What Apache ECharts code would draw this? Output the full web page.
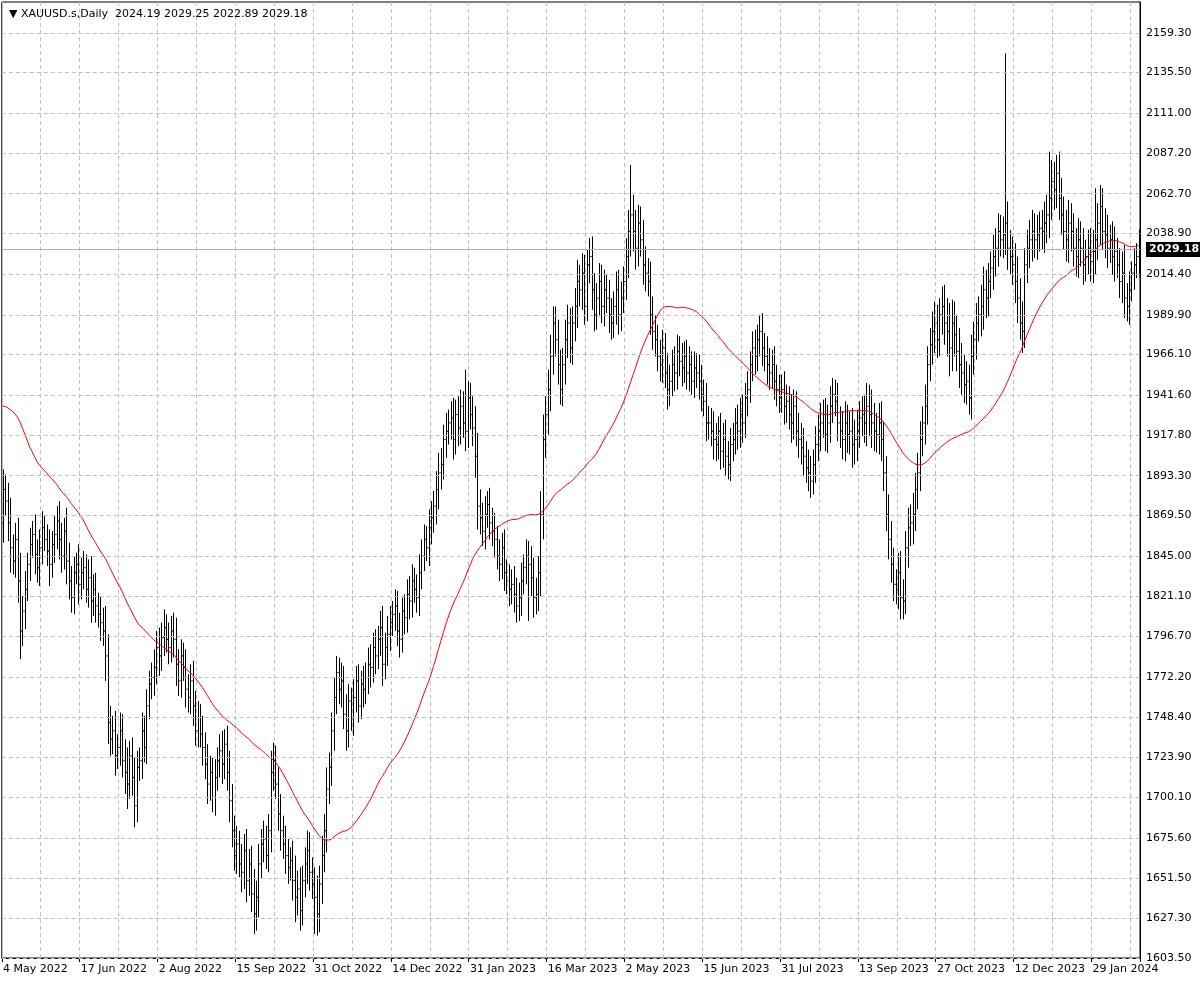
<!DOCTYPE html>
<html><head><meta charset="utf-8">
<script src="https://cdn.jsdelivr.net/npm/echarts@6/dist/echarts.min.js"></script>
<style>html,body{margin:0;padding:0;background:#fff}#c{width:1200px;height:984px}</style>
</head><body><div id="c"></div>
<script>
const title = "\u25BC XAUUSD.s,Daily  2024.19 2029.25 2022.89 2029.18";
const xTickLabels = ["4 May 2022","17 Jun 2022","2 Aug 2022","15 Sep 2022","31 Oct 2022","14 Dec 2022","31 Jan 2023","16 Mar 2023","2 May 2023","15 Jun 2023","31 Jul 2023","13 Sep 2023","27 Oct 2023","12 Dec 2023","29 Jan 2024"];
const yTickLabels = [1603.50,1627.30,1651.50,1675.60,1700.10,1723.90,1748.40,1772.20,1796.70,1821.10,1845.00,1869.50,1893.30,1917.80,1941.60,1966.10,1989.90,2014.40,2038.90,2062.70,2087.20,2111.00,2135.50,2159.30];
const lastPrice = 2029.18;
const preCloses = [1898,1890,1905,1910,1890,1935,1925,1945,1995,2000,2040,2050,1990,2000,1985,1960,1930,1945,1920,1935,1935,1925,1958,1960,1955,1935,1925,1920,1935,1930,1925,1925,1945,1950,1975,1978,1955,1950,1930,1940,1933,1903,1895,1885,1890,1898,1870,1868,1862,1865];
const closes = [
1885,1878,1865,1850,1842,1855,1830,1800,1812,1825,
1840,1852,1858,1846,1838,1850,1862,1855,1848,1840,
1852,1858,1866,1855,1845,1860,1842,1830,1820,1835,
1840,1828,1835,1838,1825,1832,1818,1825,1815,1810,
1805,1800,1785,1745,1735,1740,1725,1730,1740,1722,
1715,1708,1725,1712,1695,1718,1722,1740,1730,1755,
1768,1772,1778,1790,1785,1796,1802,1795,1790,1800,
1795,1780,1770,1785,1778,1765,1760,1770,1755,1740,
1748,1738,1730,1720,1708,1715,1700,1712,1722,1728,
1720,1732,1715,1698,1680,1665,1672,1660,1655,1668,
1650,1660,1642,1630,1640,1660,1672,1675,1665,1680,
1715,1722,1708,1690,1680,1672,1665,1658,1662,1650,
1640,1645,1632,1650,1660,1668,1655,1648,1640,1630,
1648,1665,1680,1705,1718,1740,1760,1775,1765,1770,
1750,1740,1758,1748,1760,1770,1755,1768,1765,1772,
1780,1778,1790,1785,1795,1802,1780,1790,1798,1805,
1810,1815,1800,1795,1812,1808,1822,1818,1830,1825,
1820,1835,1845,1855,1850,1862,1868,1875,1885,1895,
1900,1915,1920,1925,1928,1915,1930,1922,1935,1925,
1920,1940,1930,1922,1905,1875,1868,1860,1870,1876,
1865,1860,1855,1845,1840,1850,1835,1830,1825,1828,
1822,1815,1820,1830,1838,1845,1840,1832,1820,1822,
1835,1870,1915,1930,1945,1965,1985,1975,1960,1945,
1960,1975,1985,1970,1985,1995,2010,2005,2015,1995,
2020,2025,2005,1990,2000,2010,1995,2005,2000,1990,
1985,1995,2005,1990,2000,2010,2025,2040,2050,2040,
2030,2045,2035,2020,2015,2010,1990,1980,1975,1965,
1960,1970,1955,1945,1950,1960,1955,1968,1962,1958,
1965,1955,1960,1950,1958,1955,1950,1942,1938,1925,
1925,1920,1915,1912,1920,1908,1915,1905,1900,1912,
1915,1925,1920,1930,1925,1940,1945,1960,1970,1965,
1975,1980,1970,1965,1960,1955,1960,1950,1945,1940,
1945,1935,1938,1930,1925,1935,1920,1915,1910,1905,
1898,1895,1890,1900,1912,1920,1925,1930,1918,1925,
1935,1942,1938,1925,1920,1915,1925,1918,1920,1912,
1915,1920,1928,1930,1925,1935,1930,1925,1920,1918,
1925,1915,1895,1870,1855,1840,1828,1825,1835,1820,
1818,1850,1862,1865,1870,1885,1895,1915,1925,1935,
1960,1972,1980,1985,1975,1990,1995,1985,1980,1970,
1985,1978,1968,1960,1955,1948,1950,1940,1965,1975,
1985,1990,1995,2005,2000,2010,2018,2025,2030,2040,
2035,2038,2045,2030,2025,2020,2010,2000,1985,1980,
2020,2030,2035,2040,2035,2038,2042,2040,2045,2050,
2060,2070,2065,2075,2060,2050,2040,2035,2045,2040,
2030,2025,2035,2030,2020,2025,2030,2022,2028,2035,
2045,2055,2040,2038,2030,2035,2025,2028,2020,2010,
2015,2000,1995,2005,2015,2020,2025,2029.18];
const spreads = [
24,18,22,30,16,20,26,34,18,22,14,20,16,24,18,22,20,14,18,26,
16,22,18,24,20,16,28,22,18,20,14,24,18,20,16,22,26,18,20,16,
22,18,30,26,20,18,24,16,22,20,26,30,18,22,24,20,16,22,18,20,
16,18,22,20,24,18,22,16,20,18,22,26,18,20,16,22,18,20,24,18,
20,16,22,18,24,20,18,22,16,20,24,18,22,26,20,18,22,16,24,20,
26,18,22,30,20,24,18,22,16,20,26,22,18,20,24,18,22,20,16,24,
30,22,26,18,20,24,22,18,20,26,22,24,20,26,18,22,24,20,18,22,
18,24,20,16,22,18,20,16,22,18,20,24,18,22,16,20,26,18,22,20,
16,20,18,22,16,20,18,22,20,16,18,22,20,18,16,22,20,18,22,24,
20,18,22,16,20,24,18,22,20,18,24,20,18,22,26,28,20,18,22,16,
20,18,22,16,20,18,22,16,20,18,22,20,18,22,16,20,18,22,24,20,
20,28,30,22,24,26,22,20,24,18,20,24,22,18,20,22,26,20,24,22,
18,22,24,20,18,22,20,24,18,22,20,18,22,24,20,18,22,26,30,24,
26,22,20,24,22,18,24,22,20,18,20,22,18,24,20,18,22,20,18,22,
18,20,22,16,20,18,22,20,18,22,20,18,24,20,18,22,20,24,18,20,
20,18,22,20,24,18,22,16,20,22,18,20,22,18,24,20,18,22,20,18,
18,22,20,18,24,20,18,22,20,24,18,22,20,18,22,20,24,18,20,22,
24,20,18,22,20,24,26,22,24,28,24,26,20,22,24,28,26,30,24,22,
24,26,22,20,24,22,20,18,24,26,22,20,24,22,26,20,24,22,20,26,
22,20,24,26,22,20,24,26,30,34,28,26,24,28,26,22,24,20,26,22,
24,22,26,28,24,22,20,26,24,22,20,22,24,26,22,24,26,30,24,26,
20,22,24,26,22,24,20,22,26,24,28,26,24,22,26,24,22,26,28,24,
22,24,26,22,24,20,22,24,26,28,24,26,22,28];
const highOver = {412:2147, 258:2080, 190:1957, 430:2088, 449:2066, 226:1995};
const lowOver = {103:1618, 122:1620, 128:1618, 54:1682, 216:1806, 371:1810, 418:1975, 461:1988, 333:1882};
const maPeriod = 50;

const all = preCloses.concat(closes);
const N = closes.length;
const cats = [], bars = [], ma = [];
for (let i = 0; i < N; i++) {
  cats.push(i % 32 === 0 ? xTickLabels[i/32] : String(i));
  const o = all[preCloses.length + i - 1], c = closes[i], s = spreads[i % spreads.length] / 2;
  let h = Math.max(o, c) + s, l = Math.min(o, c) - s;
  if (highOver[i]) h = highOver[i];
  if (lowOver[i]) l = lowOver[i];
  bars.push([i, o, c, l, h]);
  let sum = 0; for (let k = 0; k < maPeriod; k++) sum += all[preCloses.length + i - k];
  ma.push(+(sum / maPeriod).toFixed(2));
}
const ch = echarts.init(document.getElementById('c'));
const ff = 'DejaVu Sans';
ch.setOption({
  animation: false, backgroundColor: '#fff',
  title: {text: title, left: 4, top: 4, textStyle: {fontSize: 11, fontWeight: 'normal', color: '#000', fontFamily: ff}},
  grid: {left: 1, right: 60, top: 2, bottom: 26, show: true, borderColor: '#000', borderWidth: 1},
  xAxis: {type: 'category', data: cats, boundaryGap: [0.002, 0.01],
    axisLine: {lineStyle: {color: '#000'}}, axisTick: {show: true, interval: i => i % 32 === 0, length: 4, lineStyle: {color: '#000'}},
    axisLabel: {interval: i => i % 32 === 0, color: '#000', fontSize: 11, fontFamily: ff, margin: 6, align: 'left'},
    splitLine: {show: true, interval: i => i % 16 === 0, lineStyle: {color: '#c0c0c0', type: [4, 3]}}},
  yAxis: {type: 'value', position: 'right', min: 1603.5, max: 2177.9, axisLabel: {show: false}, splitLine: {show: false}, axisLine: {show: true, lineStyle: {color: '#000'}}},
  series: [
    {type: 'custom', data: bars, encode: {x: 0, y: [1, 2, 3, 4]},
      renderItem: (p, api) => {
        const x = api.value(0);
        const po = api.coord([x, api.value(1)]), pc = api.coord([x, api.value(2)]);
        const pl = api.coord([x, api.value(3)]), ph = api.coord([x, api.value(4)]);
        const st = {stroke: '#000', lineWidth: 1};
        const cx = Math.round(pl[0]) + 0.5;
        return {type: 'group', children: [
          {type: 'line', shape: {x1: cx, y1: ph[1], x2: cx, y2: pl[1]}, style: st},
          {type: 'line', shape: {x1: cx - 1.2, y1: po[1], x2: cx, y2: po[1]}, style: st},
          {type: 'line', shape: {x1: cx, y1: pc[1], x2: cx + 1.2, y2: pc[1]}, style: st}
        ]};
      },
      markLine: {silent: true, symbol: 'none', animation: false,
        data: yTickLabels.map(v => ({yAxis: v})).concat([{yAxis: lastPrice, lineStyle: {type: 'solid', color: '#b0b0b0'},
          label: {backgroundColor: '#000', color: '#fff', padding: [2, 3], formatter: lastPrice.toFixed(2), fontWeight: 'bold'}}]),
        lineStyle: {color: '#c0c0c0', type: [4, 3], width: 1},
        label: {position: 'end', color: '#000', fontSize: 11, fontFamily: ff, distance: 6, formatter: p => p.value.toFixed(2)}}
    },
    {type: 'line', data: ma, symbol: 'none', lineStyle: {color: '#ff0000', width: 1}, z: 3}
  ]
});
</script></body></html>
